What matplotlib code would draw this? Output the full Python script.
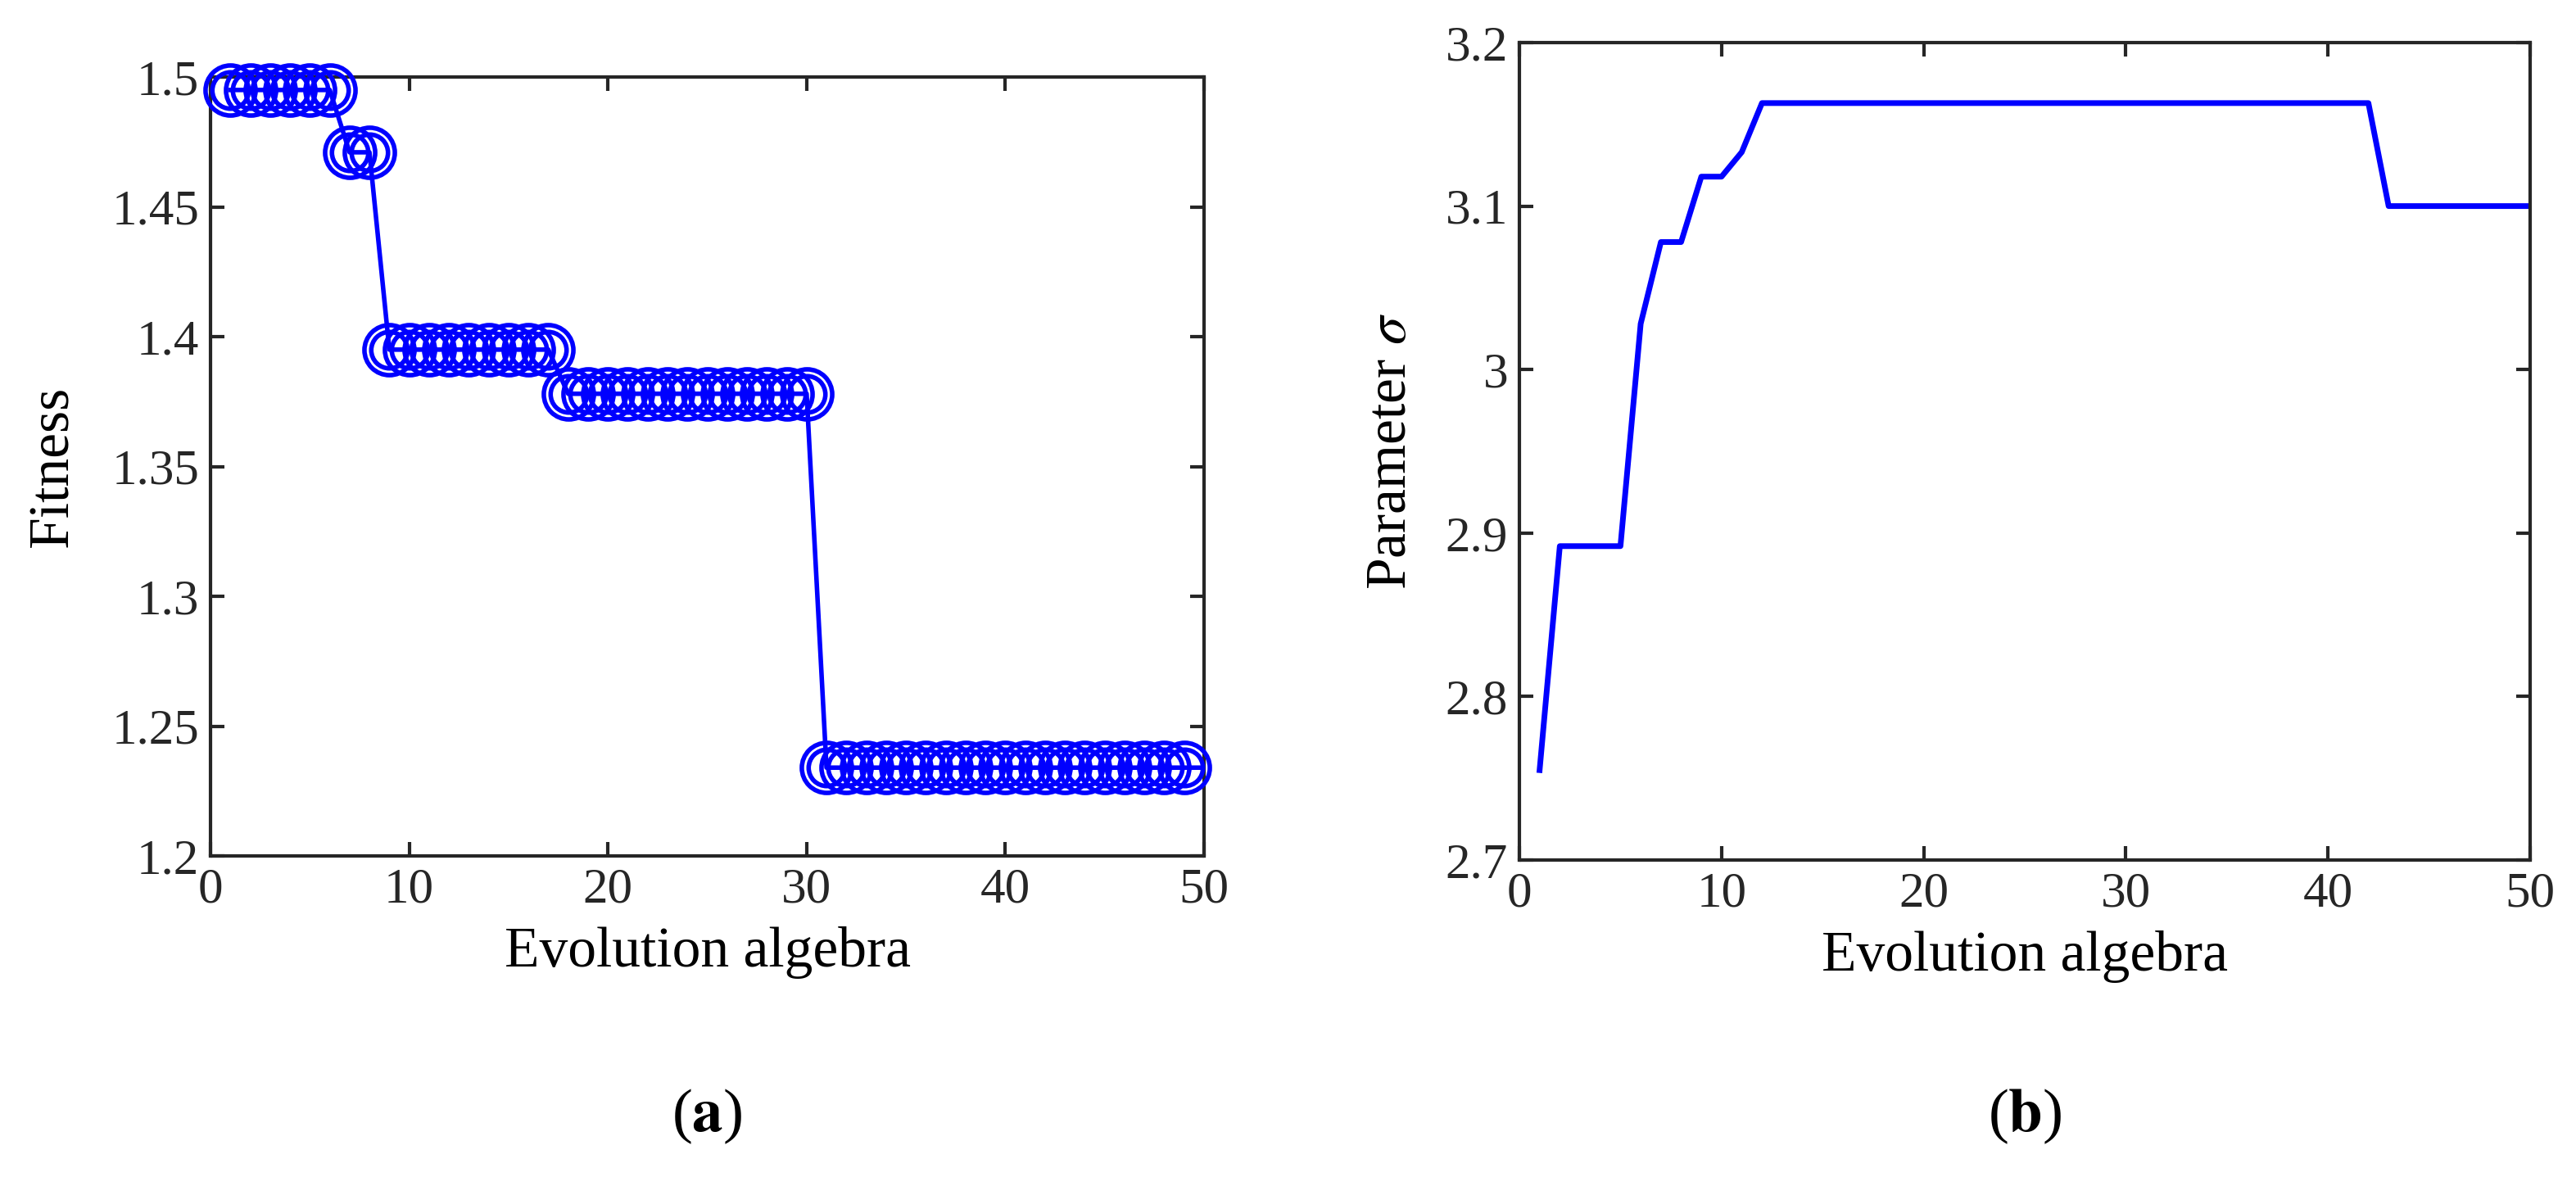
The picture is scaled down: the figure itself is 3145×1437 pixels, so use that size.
import numpy as np
import matplotlib.pyplot as plt

plt.rcParams['font.family'] = ['Liberation Serif', 'DejaVu Serif']
plt.rcParams['mathtext.fontset'] = 'stix'

# --- data ---
gen = np.arange(1, 51)
fitness = [1.495] * 6 + [1.471] * 2 + [1.395] * 9 + [1.378] * 13 + [1.234] * 20
sigma = [2.755, 2.892, 2.892, 2.892, 2.892, 3.028, 3.078, 3.078, 3.118, 3.118,
         3.133] + [3.163] * 31 + [3.100] * 8

fig = plt.figure(figsize=(31.45, 14.37), dpi=100)
ax1 = fig.add_axes([257 / 3145, 1 - 1045 / 1437, (1470 - 257) / 3145, (1045 - 94) / 1437])
ax2 = fig.add_axes([1855 / 3145, 1 - 1050 / 1437, (3089 - 1855) / 3145, (1050 - 52) / 1437])

blue = '#0000ff'
ax1.plot(gen, fitness, color=blue, lw=4, zorder=2)
ax1.plot(gen[:-1], fitness[:-1], 'o', ms=44, mfc='none', mec=blue, mew=4, zorder=3, clip_on=False)
ax1.plot(gen[:-1], fitness[:-1], 'o', ms=32, mfc='none', mec=blue, mew=4, zorder=3, clip_on=False)
ax1.set_xlim(0, 50)
ax1.set_ylim(1.2, 1.5)
ax1.set_yticks([1.2, 1.25, 1.3, 1.35, 1.4, 1.45, 1.5])
ax1.set_yticklabels(['1.2', '1.25', '1.3', '1.35', '1.4', '1.45', '1.5'])
ax1.set_ylabel('Fitness', fontsize=50, labelpad=28)

ax2.plot(gen, sigma, color=blue, lw=5)
ax2.set_xlim(0, 50)
ax2.set_ylim(2.7, 3.2)
ax2.set_yticks([2.7, 2.8, 2.9, 3.0, 3.1, 3.2])
ax2.set_yticklabels(['2.7', '2.8', '2.9', '3', '3.1', '3.2'])
ax2.set_ylabel(r'Parameter $\sigma$', fontsize=50, labelpad=24)

for ax in (ax1, ax2):
    ax.set_xticks([0, 10, 20, 30, 40, 50])
    ax.set_xlabel('Evolution algebra', fontsize=50, labelpad=12)
    ax.tick_params(direction='in', length=12, width=3, labelsize=44,
                   top=True, right=True, color='#262626', labelcolor='#262626', pad=10)
    for s in ax.spines.values():
        s.set_linewidth(3)
        s.set_color('#262626')

fig.text((257 + 1470) / 2 / 3145, 1 - 1363 / 1437, r'($\mathbf{a}$)', fontsize=54, ha='center', va='center')
fig.text((1855 + 3089) / 2 / 3145, 1 - 1363 / 1437, r'($\mathbf{b}$)', fontsize=54, ha='center', va='center')

fig.savefig('out.png', dpi=100)
